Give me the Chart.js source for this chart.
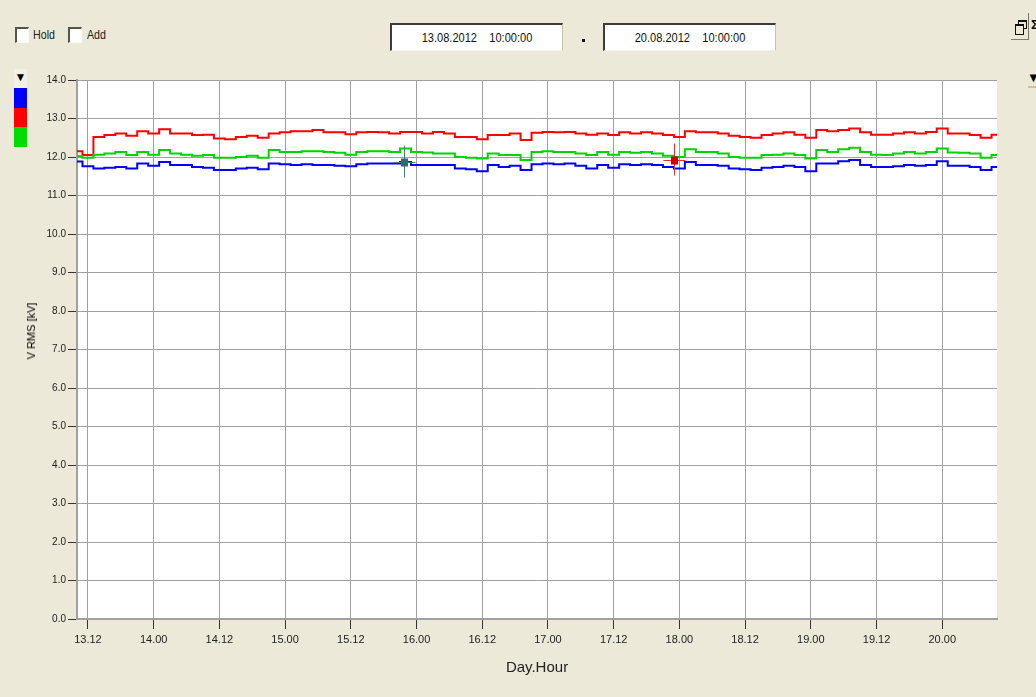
<!DOCTYPE html>
<html>
<head>
<meta charset="utf-8">
<title>V RMS</title>
<script src="https://cdn.jsdelivr.net/npm/chart.js@4.4.0/dist/chart.umd.min.js"></script>
<style>
  body { margin:0; background:#ece9d8; width:1036px; height:697px; overflow:hidden; position:relative;
         font-family:'Liberation Sans Narrow','Liberation Sans',Arial,sans-serif; }
  #chart { position:absolute; left:0; top:0; }
  .chk { position:absolute; top:27px; width:11px; height:13px; background:#fff;
         border-top:2px solid #55554a; border-left:2px solid #55554a; border-right:1px solid #fbfbf7; border-bottom:1px solid #fbfbf7; }
  .lbl { position:absolute; top:27px; font-size:13px; color:#222; line-height:16px; transform-origin:0 0; transform:scaleX(0.82); }
  .datebox { position:absolute; top:23px; width:170px; height:25px; background:#fff;
             border-top:2px solid #3c3c3c; border-left:2px solid #3c3c3c; border-right:1px solid #c9c3a6; border-bottom:1px solid #f4f2ea; }
  .datebox span { display:block; font-size:13px; color:#111; text-align:center; line-height:25px; white-space:pre; transform:scaleX(0.85); }
  .blk { position:absolute; left:14px; width:13px; }
  .ytitle { position:absolute; left:31px; top:331px; transform:translate(-50%,-50%) rotate(-90deg);
            font-family:'Liberation Sans',Arial,sans-serif; font-size:11px; color:#000; white-space:nowrap; }
</style>
</head>
<body>
<div class="chk" style="left:15px"></div><div class="lbl" style="left:33px">Hold</div>
<div class="chk" style="left:68px"></div><div class="lbl" style="left:87px">Add</div>

<div class="datebox" style="left:390px"><span>13.08.2012    10:00:00</span></div>
<div style="position:absolute;left:582px;top:39px;width:3px;height:3px;background:#111"></div>
<div class="datebox" style="left:603px"><span>20.08.2012    10:00:00</span></div>

<!-- small buttons top right -->
<div style="position:absolute;left:1011px;top:13px;width:17px;height:26px;border-right:1px solid #7c7460;border-bottom:1px solid #8c7c48"></div>
<div style="position:absolute;left:1018px;top:20px;width:7px;height:6px;border:1px solid #111;border-top-width:2px"></div>
<div style="position:absolute;left:1015px;top:24px;width:7px;height:8px;border:1px solid #111;border-top-width:2px;background:#ece9d8"></div>
<div style="position:absolute;left:1031px;top:17px;font:bold 13px 'Liberation Sans',Arial;color:#111">Σ</div>
<div style="position:absolute;left:1027px;top:70px;font-size:13px;color:#000">▼</div>
<div style="position:absolute;left:1028px;top:86px;width:8px;height:2px;background:#cfc28a"></div>

<!-- left legend strip -->
<div class="blk" style="top:69px;height:19px;background:#f3f1e6;text-align:center;font-size:12px;line-height:17px;color:#000">▼</div>
<div class="blk" style="top:88px;height:20px;background:#0000ff"></div>
<div class="blk" style="top:108px;height:19px;background:#ff0000"></div>
<div class="blk" style="top:127px;height:20px;background:#00dc00"></div>

<canvas id="chart" width="1036" height="697"></canvas>
<div class="ytitle">V RMS [kV]</div>

<script>
// hours counted from 13.08.2012 10:00, one sample every 2 hours up to 20.08.2012 10:00
var sampleStep = 2;

var redValues = [12.15, 12.05, 12.52, 12.57, 12.61, 12.55, 12.67, 12.61, 12.72, 12.61, 12.61, 12.57, 12.58, 12.48, 12.46, 12.52,
  12.55, 12.50, 12.61, 12.64, 12.67, 12.67, 12.70, 12.64, 12.64, 12.59, 12.64, 12.65, 12.64, 12.61, 12.65, 12.65,
  12.61, 12.65, 12.61, 12.52, 12.52, 12.46, 12.57, 12.57, 12.61, 12.44, 12.63, 12.65, 12.64, 12.65, 12.61, 12.58,
  12.61, 12.57, 12.64, 12.61, 12.64, 12.61, 12.57, 12.52, 12.67, 12.64, 12.64, 12.61, 12.55, 12.52, 12.50, 12.57,
  12.61, 12.64, 12.58, 12.50, 12.70, 12.67, 12.70, 12.74, 12.64, 12.58, 12.58, 12.61, 12.64, 12.61, 12.65, 12.74,
  12.61, 12.61, 12.57, 12.50, 12.58];

var greenValues = [12.02, 11.98, 12.06, 12.09, 12.13, 12.05, 12.13, 12.06, 12.18, 12.09, 12.06, 12.03, 12.05, 11.98, 11.98, 12.0,
  12.03, 11.98, 12.18, 12.13, 12.13, 12.15, 12.15, 12.13, 12.11, 12.06, 12.13, 12.15, 12.15, 12.13, 12.22, 12.13,
  12.12, 12.09, 12.09, 12.0, 11.98, 11.96, 12.09, 12.05, 12.05, 11.92, 12.13, 12.15, 12.13, 12.13, 12.09, 12.05,
  12.13, 12.06, 12.13, 12.11, 12.13, 12.09, 12.03, 12.0, 12.20, 12.13, 12.13, 12.09, 12.0, 11.98, 11.98, 12.05,
  12.06, 12.09, 12.05, 11.96, 12.18, 12.13, 12.20, 12.24, 12.13, 12.06, 12.05, 12.09, 12.13, 12.09, 12.13, 12.22,
  12.12, 12.11, 12.09, 11.98, 12.05];

var blueValues = [11.88, 11.76, 11.70, 11.72, 11.74, 11.70, 11.83, 11.77, 11.87, 11.79, 11.79, 11.74, 11.72, 11.66, 11.66, 11.70,
  11.72, 11.68, 11.83, 11.81, 11.79, 11.81, 11.79, 11.79, 11.77, 11.76, 11.81, 11.83, 11.83, 11.83, 11.87, 11.79,
  11.79, 11.79, 11.79, 11.70, 11.68, 11.63, 11.79, 11.74, 11.77, 11.66, 11.81, 11.83, 11.81, 11.83, 11.77, 11.70,
  11.79, 11.72, 11.81, 11.79, 11.81, 11.79, 11.74, 11.70, 11.87, 11.79, 11.79, 11.77, 11.70, 11.68, 11.66, 11.72,
  11.74, 11.77, 11.74, 11.63, 11.83, 11.83, 11.89, 11.92, 11.79, 11.74, 11.74, 11.76, 11.79, 11.77, 11.79, 11.89,
  11.77, 11.77, 11.74, 11.66, 11.74];

var xTickHours = [2, 14, 26, 38, 50, 62, 74, 86, 98, 110, 122, 134, 146, 158];
var xTickLabels = ['13.12', '14.00', '14.12', '15.00', '15.12', '16.00', '16.12', '17.00', '17.12', '18.00', '18.12', '19.00', '19.12', '20.00'];

// cursor markers (hour, kV)
var markerHours = [59.7, 109.0];
var markerValues = [11.87, 11.93];
var markerColors = ['#2f6b6b', '#d00000'];
var markerLineColors = ['#3f7f7f', '#e83030'];

function toPoints(values) {
  return values.map(function (v, i) { return { x: i * sampleStep, y: v }; });
}

var plotBackground = {
  id: 'plotBackground',
  beforeDraw: function (chart) {
    var a = chart.chartArea, ctx = chart.ctx;
    ctx.save();
    ctx.fillStyle = '#ffffff';
    ctx.fillRect(a.left, a.top, a.right - a.left, a.bottom - a.top);
    ctx.restore();
  }
};

var cursorMarkers = {
  id: 'cursorMarkers',
  afterDatasetsDraw: function (chart) {
    var ctx = chart.ctx, xs = chart.scales.x, ys = chart.scales.y;
    ctx.save();
    for (var i = 0; i < markerHours.length; i++) {
      var px = Math.round(xs.getPixelForValue(markerHours[i])) + 0.5;
      var py = Math.round(ys.getPixelForValue(markerValues[i])) + 0.5;
      ctx.strokeStyle = markerLineColors[i];
      ctx.lineWidth = 1;
      ctx.beginPath();
      ctx.moveTo(px, py - 17); ctx.lineTo(px, py + 15);
      ctx.moveTo(px - 11, py); ctx.lineTo(px + 11, py);
      ctx.stroke();
      ctx.fillStyle = markerColors[i];
      ctx.fillRect(px - 3.5, py - 4, 7, 8);
    }
    ctx.restore();
  }
};

var ctx = document.getElementById('chart').getContext('2d');
Chart.defaults.font.family = "'Liberation Sans Narrow','Liberation Sans',Arial,sans-serif";

var myChart = new Chart(ctx, {
  type: 'line',
  data: {
    datasets: [
      { label: 'L2', data: toPoints(greenValues), borderColor: '#00d400', borderWidth: 2, stepped: 'middle', pointRadius: 0, fill: false },
      { label: 'L3', data: toPoints(blueValues), borderColor: '#0000ff', borderWidth: 2, stepped: 'middle', pointRadius: 0, fill: false },
      { label: 'L1', data: toPoints(redValues), borderColor: '#ff0000', borderWidth: 2, stepped: 'middle', pointRadius: 0, fill: false }
    ]
  },
  options: {
    responsive: false,
    animation: false,
    layout: { padding: { left: 0, top: 80, right: 39, bottom: 0 } },
    plugins: { legend: { display: false }, tooltip: { enabled: false } },
    scales: {
      x: {
        type: 'linear',
        min: 0,
        max: 168,
        afterFit: function (s) { s.height = 78; },
        afterBuildTicks: function (s) { s.ticks = xTickHours.map(function (h) { return { value: h }; }); },
        grid: { color: '#a0a0a0', lineWidth: 1, tickColor: '#333', tickLength: 10 },
        border: { color: '#a0a0a0', width: 2 },
        ticks: {
          autoSkip: false, maxRotation: 0, padding: 4, color: '#222', font: { size: 11 },
          callback: function (v) { var k = xTickHours.indexOf(v); return k >= 0 ? xTickLabels[k] : ''; }
        },
        title: { display: true, text: 'Day.Hour', color: '#222', font: { size: 15 }, padding: { top: 0, bottom: 20 } }
      },
      y: {
        min: 0,
        max: 14,
        afterFit: function (s) { s.width = 77; },
        grid: { color: '#a0a0a0', lineWidth: 1, tickColor: '#333', tickLength: 9 },
        border: { color: '#a0a0a0', width: 2 },
        ticks: {
          stepSize: 1, padding: 2, color: '#222', font: { size: 10 },
          callback: function (v) { return v.toFixed(1); }
        }
      }
    }
  },
  plugins: [plotBackground, cursorMarkers]
});
</script>
</body>
</html>
